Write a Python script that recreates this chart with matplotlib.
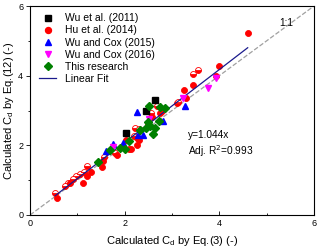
import numpy as np
import matplotlib.pyplot as plt
from matplotlib.lines import Line2D

plt.rcParams['font.family'] = ['Liberation Sans', 'DejaVu Sans']

# Wu et al. (2011)
wu11_x = [2.03, 2.45, 2.65]
wu11_y = [2.35, 2.98, 3.30]

# Hu et al. (2014), solid markers
hu_full_x = [0.56, 0.85, 1.12, 1.20, 1.28, 1.51, 1.55, 1.83, 2.03, 2.10, 2.14, 2.26,
             2.30, 2.27, 2.50, 2.57, 2.74, 2.78, 3.25, 3.30, 3.44, 3.92, 3.99, 4.60]
hu_full_y = [0.49, 0.92, 0.91, 1.12, 1.24, 1.38, 1.55, 1.71, 2.16, 1.89, 1.89, 2.00,
             2.15, 2.20, 2.60, 2.80, 2.93, 3.00, 3.60, 3.36, 3.74, 3.98, 4.29, 5.22]
# Hu et al. (2014), half-filled markers
hu_half_x = [0.53, 0.74, 0.81, 0.90, 0.98, 1.05, 1.14, 1.20, 1.57, 1.79, 2.20, 2.22,
             2.30, 2.55, 2.69, 3.11, 3.13, 3.45, 3.55]
hu_half_y = [0.63, 0.84, 0.93, 1.03, 1.12, 1.17, 1.23, 1.41, 1.66, 1.79, 2.26, 2.49,
             2.46, 2.93, 3.12, 3.22, 3.23, 4.05, 4.17]

# Wu and Cox (2015)
wc15_x = [1.60, 1.76, 1.97, 2.28, 2.39, 2.27, 2.81, 3.28]
wc15_y = [1.84, 2.03, 2.08, 2.30, 2.31, 2.96, 2.69, 3.14]

# Wu and Cox (2016)
wc16_x = [1.75, 2.52, 3.23, 3.76, 3.92]
wc16_y = [1.94, 2.76, 3.35, 3.66, 3.94]

# This research
this_x = [1.43, 1.69, 1.90, 2.00, 2.33, 2.45, 2.49, 2.53, 2.52, 2.59, 2.64, 2.73, 2.74, 2.85, 2.10]
this_y = [1.52, 1.87, 1.93, 1.89, 2.43, 2.50, 2.68, 2.55, 3.14, 2.33, 2.50, 2.69, 3.10, 3.07, 2.13]

slope = 1.044
fit_range = [0.53, 4.60]

fig = plt.figure(figsize=(3.2, 2.52), dpi=100)
ax = fig.add_axes([0.094, 0.147, 0.887, 0.829])

ax.plot([0, 6], [0, 6], '--', color='#a0a0a0', lw=0.9, zorder=1)
fx = np.array(fit_range)
ax.plot(fx, slope * fx, color='#1a1a8c', lw=0.9, zorder=3)

ms = 4.3
ax.plot(hu_half_x, hu_half_y, 'o', ms=ms, color='red', mec='red', mew=0.6,
        fillstyle='bottom', markerfacecoloralt='white', zorder=2)
ax.plot(hu_full_x, hu_full_y, 'o', ms=ms, color='red', mec='red', mew=0.6, zorder=2)
ax.plot(wu11_x, wu11_y, 's', ms=ms, color='black', zorder=4)
ax.plot(wc15_x, wc15_y, '^', ms=ms, color='blue', zorder=4)
ax.plot(wc16_x, wc16_y, 'v', ms=ms, color='magenta', zorder=4)
ax.plot(this_x, this_y, 'D', ms=ms - 0.6, color='green', zorder=4)

handles = [
    Line2D([], [], ls='', marker='s', ms=ms, color='black'),
    Line2D([], [], ls='', marker='o', ms=ms, color='red'),
    Line2D([], [], ls='', marker='^', ms=ms, color='blue'),
    Line2D([], [], ls='', marker='v', ms=ms, color='magenta'),
    Line2D([], [], ls='', marker='D', ms=ms - 0.6, color='green'),
    Line2D([], [], color='#1a1a8c', lw=0.9),
]
labels = ['Wu et al. (2011)', 'Hu et al. (2014)', 'Wu and Cox (2015)',
          'Wu and Cox (2016)', 'This research', 'Linear Fit']
ax.legend(handles, labels, loc='upper left', frameon=False, fontsize=7.5,
          handlelength=1.6, handletextpad=0.9, labelspacing=0.2,
          borderaxespad=0.2, bbox_to_anchor=(0.01, 0.995))

ax.text(3.33, 2.29, 'y=1.044x', fontsize=7.3, va='center')
ax.text(3.33, 1.83, 'Adj. R$^2$=0.993', fontsize=7.3, va='center')
ax.text(5.42, 5.5, '1:1', fontsize=7.3, va='center', ha='center')

ax.set_xlim(0, 6)
ax.set_ylim(0, 6)
ax.set_xticks([0, 2, 4, 6])
ax.set_yticks([0, 2, 4, 6])
ax.set_xticks([1, 3, 5], minor=True)
ax.set_yticks([1, 3, 5], minor=True)
ax.tick_params(axis='x', which='both', direction='in', labelsize=6.5, pad=3)
ax.tick_params(axis='y', which='both', direction='out', labelsize=6.5, pad=2)
ax.tick_params(which='major', length=3, width=0.6)
ax.tick_params(which='minor', length=1.8, width=0.6)
for s in ax.spines.values():
    s.set_linewidth(0.8)

ax.set_xlabel('Calculated C$_\\mathregular{d}$ by Eq.(3) (-)', fontsize=8, labelpad=4)
ax.set_ylabel('Calculated C$_\\mathregular{d}$ by Eq.(12) (-)', fontsize=8, labelpad=1.5)

fig.savefig('out.png', dpi=100)
